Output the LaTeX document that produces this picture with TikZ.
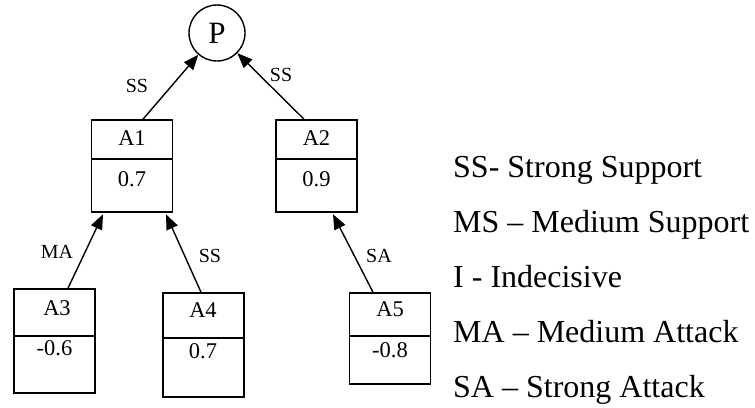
\documentclass[tikz,border=0pt]{standalone}
\usepackage{fontspec}
\setmainfont{Liberation Serif}
\usetikzlibrary{arrows.meta}
\tikzset{
  argbox/.style={draw, line width=1.6pt, rectangle, inner sep=0pt, minimum width=81pt},
  divline/.style={line width=1.6pt},
  boxtext/.style={font=\fontsize{22.5}{24}\selectfont, inner sep=0pt},
  edgelab/.style={font=\fontsize{20}{22}\selectfont, inner sep=0pt},
  legend/.style={font=\fontsize{32}{34}\selectfont, inner sep=0pt, anchor=base west},
  arr/.style={line width=1.4pt, -{Triangle[length=15pt,width=12pt]}},
}
\begin{document}
\begin{tikzpicture}[x=1pt,y=-1pt]
\useasboundingbox (0,0) rectangle (755,407);
% root
\node[draw, circle, line width=1.4pt, minimum size=56pt, inner sep=0pt, font=\fontsize{31}{33}\selectfont] (P) at (217,33) {P};
% boxes
\node[argbox, minimum height=92pt] (A1) at (132,166) {};
\node[argbox, minimum height=92pt] (A2) at (316.5,166) {};
\node[argbox, minimum height=104pt] (A3) at (54.5,341) {};
\node[argbox, minimum height=104pt] (A4) at (203.5,345) {};
\node[argbox, minimum height=91pt] (A5) at (390,338.5) {};
% dividers
\draw[divline] (A1.west |- 0,159) -- (A1.east |- 0,159);
\draw[divline] (A2.west |- 0,159) -- (A2.east |- 0,159);
\draw[divline] (A3.west |- 0,336) -- (A3.east |- 0,336);
\draw[divline] (A4.west |- 0,338) -- (A4.east |- 0,338);
\draw[divline] (A5.west |- 0,336) -- (A5.east |- 0,336);
% box texts
\node[boxtext] (t1) at (132,138) {A1};
\node[boxtext] (v1) at (132,179) {0.7};
\node[boxtext] (t2) at (316.5,138) {A2};
\node[boxtext] (v2) at (316.5,179) {0.9};
\node[boxtext] (t3) at (57,308) {A3};
\node[boxtext] (v3) at (54.5,348) {-0.6};
\node[boxtext] (t4) at (203,310) {A4};
\node[boxtext] (v4) at (203,351) {0.7};
\node[boxtext] (t5) at (390,309) {A5};
\node[boxtext] (v5) at (390,350) {-0.8};
% arrows
\draw[arr] ([xshift=11pt]A1.north) -- (P);
\draw[arr] ([xshift=-12.5pt]A2.north) -- (P);
\draw[arr] ([xshift=13.5pt]A3.north) -- ([xshift=-29pt,yshift=-1.5pt]A1.south);
\draw[arr] ([xshift=-2.5pt]A4.north) -- ([xshift=34pt,yshift=-1.5pt]A1.south);
\draw[arr] ([xshift=-17pt]A5.north) -- ([xshift=16.5pt,yshift=-1.5pt]A2.south);
% edge labels
\node[edgelab] (l1) at (137,86) {SS};
\node[edgelab] (l2) at (281,75) {SS};
\node[edgelab] (l3) at (57,252) {MA};
\node[edgelab] (l4) at (210,256) {SS};
\node[edgelab] (l5) at (379,256) {SA};
% legend
\node[legend] (g1) at (453,177) {SS- Strong Support};
\node[legend] (g2) at (453,232) {MS -- Medium Support};
\node[legend] (g3) at (453,287) {I - Indecisive};
\node[legend] (g4) at (453,342) {MA -- Medium Attack};
\node[legend] (g5) at (453,397) {SA -- Strong Attack};
\end{tikzpicture}
\end{document}
